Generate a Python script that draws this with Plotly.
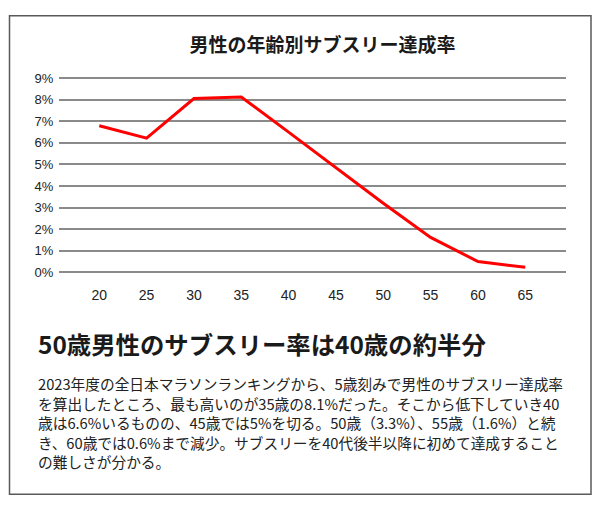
import plotly.graph_objects as go

# --- data ---
ages = [20, 25, 30, 35, 40, 45, 50, 55, 60, 65]
rates = [6.8, 6.22, 8.06, 8.13, 6.5, 4.85, 3.2, 1.62, 0.5, 0.23]
y_ticks = [0, 1, 2, 3, 4, 5, 6, 7, 8, 9]
y_tick_labels = [f"{v}%" for v in y_ticks]

chart_title = "男性の年齢別サブスリー達成率"
headline = "50歳男性のサブスリー率は40歳の約半分"
body_lines = [
    "2023年度の全日本マラソンランキングから、5歳刻みで男性のサブスリー達成率",
    "を算出したところ、最も高いのが35歳の8.1%だった。そこから低下していき40",
    "歳は6.6%いるものの、45歳では5%を切る。50歳（3.3%）、55歳（1.6%）と続",
    "き、60歳では0.6%まで減少。サブスリーを40代後半以降に初めて達成すること",
    "の難しさが分かる。",
]

W, H = 600, 510
JP = "Noto Sans CJK JP"
LAT = "Liberation Sans, Arial, sans-serif"

fig = go.Figure()
fig.add_trace(go.Scatter(
    x=ages, y=rates, mode="lines",
    line=dict(color="#ff0000", width=3),
    hoverinfo="skip", showlegend=False,
))

plot_left, plot_right = 59.3, 565.7
plot_top, plot_bottom = 72.9, 273.8

fig.update_layout(
    width=W, height=H,
    margin=dict(l=0, r=0, t=0, b=0),
    paper_bgcolor="white", plot_bgcolor="white",
    showlegend=False,
    xaxis=dict(
        domain=[plot_left / W, plot_right / W],
        range=[15.78, 69.27],
        tickvals=ages, ticktext=[str(a) for a in ages],
        showgrid=False, zeroline=False, showline=False, ticks="",
        tickfont=dict(family=LAT, size=14, color="#222"),
        ticklabelstandoff=12,
        fixedrange=True,
    ),
    yaxis=dict(
        domain=[1 - plot_bottom / H, 1 - plot_top / H],
        range=[-0.05, 9.05],
        tickvals=y_ticks, ticktext=y_tick_labels,
        showgrid=True, gridcolor="#8a8a8a", gridwidth=1.5,
        zeroline=False, showline=False, ticks="",
        tickfont=dict(family=LAT, size=13, color="#222"),
        ticklabelstandoff=5,
        fixedrange=True,
    ),
    title=dict(
        text=chart_title, xref="container", yref="container",
        x=322.5 / W, y=1 - 45 / H, xanchor="center", yanchor="middle",
        font=dict(family=JP, size=19, color="#1a1a1a", weight="bold"),
    ),
)

fig.add_shape(type="rect", xref="paper", yref="paper",
              x0=9.5 / W, x1=591 / W, y0=1 - 500 / H, y1=1 - 10 / H,
              line=dict(color="#5a5a5a", width=1.5), fillcolor="rgba(0,0,0,0)",
              layer="below")

fig.add_annotation(text=headline, xref="paper", yref="paper",
                   x=36 / W, y=1 - 346 / H, xanchor="left", yanchor="middle",
                   showarrow=False,
                   font=dict(family=JP, size=24.4, color="#1a1a1a", weight="bold"))

first_line_y, line_gap = 386.7, 20.0
for i, line in enumerate(body_lines):
    fig.add_annotation(text=line, xref="paper", yref="paper",
                       x=36 / W, y=1 - (first_line_y + i * line_gap) / H,
                       xanchor="left", yanchor="middle",
                       align="left", showarrow=False,
                       font=dict(family=JP, size=14.7, color="#222"))

fig.write_html(
    "out.html",
    config={"displayModeBar": False},
    post_script="document.body.style.margin='0';document.body.style.padding='0';",
)
